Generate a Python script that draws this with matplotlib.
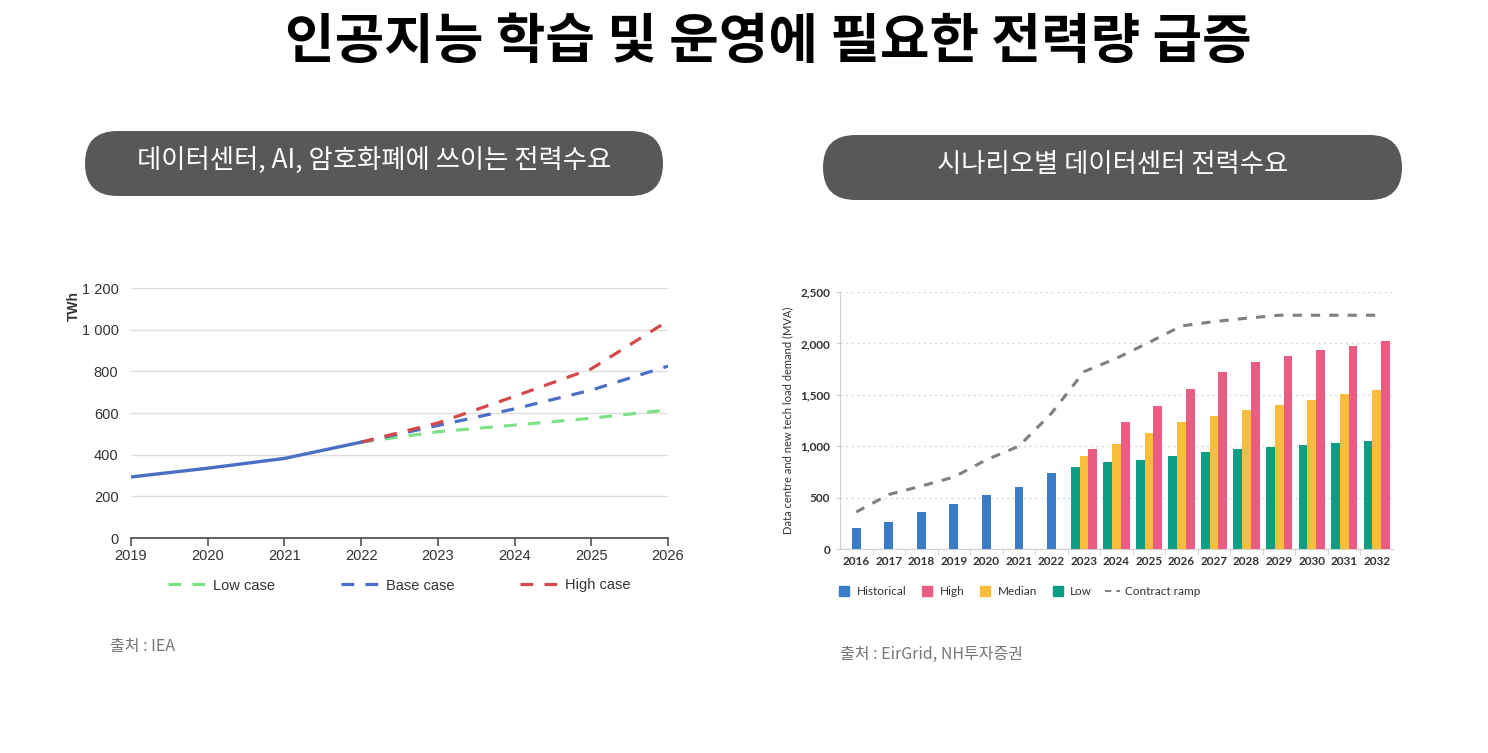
import matplotlib
matplotlib.use("Agg")
import matplotlib.pyplot as plt
from matplotlib.patches import FancyBboxPatch
from matplotlib.lines import Line2D

plt.rcParams['font.family'] = ['Noto Sans CJK KR', 'DejaVu Sans']

# ---------------- data ----------------
title = "인공지능 학습 및 운영에 필요한 전력량 급증"
left_header = "데이터센터, AI, 암호화폐에 쓰이는 전력수요"
right_header = "시나리오별 데이터센터 전력수요"
left_source = "출처 : IEA"
right_source = "출처 : EirGrid, NH투자증권"

# Left chart (IEA, TWh)
hist_years = [2019, 2020, 2021, 2022]
hist_twh = [293, 335, 382, 460]
proj_years = [2022, 2023, 2024, 2025, 2026]
low_case = [460, 510, 542, 575, 615]
base_case = [460, 540, 620, 710, 825]
high_case = [460, 552, 680, 812, 1042]
left_yticks = [0, 200, 400, 600, 800, 1000, 1200]
left_yticklabels = ["0", "200", "400", "600", "800", "1 000", "1 200"]

# Right chart (EirGrid, MVA)
years_r = [str(y) for y in range(2016, 2033)]
historical = [200, 263, 360, 438, 525, 603, 742]          # 2016-2022
scen_years = [str(y) for y in range(2023, 2033)]
low_s = [801, 846, 869, 908, 947, 973, 989, 1012, 1028, 1047]
median_s = [901, 1025, 1125, 1232, 1291, 1349, 1398, 1453, 1505, 1550]
high_s = [976, 1232, 1394, 1560, 1719, 1816, 1877, 1933, 1975, 2020]
contract_ramp = [360, 530, 612, 700, 868, 1000, 1320, 1725, 1855, 2010,
                 2170, 2212, 2245, 2274, 2274, 2274, 2274]
right_yticks = [0, 500, 1000, 1500, 2000, 2500]
right_yticklabels = ["0", "500", "1,000", "1,500", "2,000", "2,500"]

# ---------------- figure ----------------
W, H = 1488, 753
fig = plt.figure(figsize=(W / 100, H / 100), dpi=100)
fig.patch.set_facecolor("white")

bg = fig.add_axes([0, 0, 1, 1], zorder=0)
bg.set_xlim(0, W)
bg.set_ylim(H, 0)
bg.axis("off")

bg.text(768, 42, title, ha="center", va="center", fontsize=38.8,
        fontweight="heavy", color="#000000")

pill_color = "#595757"
for (x0, x1, y0, y1, txt) in [(85, 663, 131, 196, left_header),
                              (823, 1402, 135, 200, right_header)]:
    h = y1 - y0
    bg.add_patch(FancyBboxPatch((x0, y0), x1 - x0, h,
                                boxstyle=f"round,pad=0,rounding_size={h/2}",
                                fc=pill_color, ec="none"))
    bg.text((x0 + x1) / 2, (y0 + y1) / 2 - 3, txt, ha="center", va="center",
            fontsize=19, color="white", fontweight="regular")

bg.text(110, 647, left_source, ha="left", va="center", fontsize=11.5,
        color="#777777", fontweight="light")
bg.text(840, 654, right_source, ha="left", va="center", fontsize=11.5,
        color="#777777", fontweight="light")

# ---------------- left chart ----------------
narrow = ['Liberation Sans Narrow', 'Liberation Sans', 'DejaVu Sans']
axL = fig.add_axes([131 / W, 1 - 538 / H, (668 - 131) / W, (538 - 288) / H], zorder=2)
axL.set_xlim(2019, 2026)
axL.set_ylim(0, 1200)
axL.set_yticks(left_yticks)
axL.set_yticklabels(left_yticklabels)
axL.set_xticks(list(range(2019, 2027)))
for s in ["top", "right", "left"]:
    axL.spines[s].set_visible(False)
axL.spines["bottom"].set_color("#555555")
axL.spines["bottom"].set_linewidth(1.3)
axL.grid(axis="y", color="#dedede", linewidth=1)
axL.set_axisbelow(True)
axL.tick_params(axis="y", length=0, pad=9, labelsize=10.5, labelcolor="#333333")
axL.tick_params(axis="x", length=6, width=1.2, color="#555555", pad=2,
                labelsize=10.5, labelcolor="#333333")
for lab in axL.get_xticklabels() + axL.get_yticklabels():
    lab.set_family(narrow)
axL.set_ylabel("TWh", fontsize=10, family=narrow, color="#333333",
               fontweight="bold")
axL.yaxis.set_label_coords(-0.093, 0.93)

c_low, c_base, c_high = "#7ee187", "#4a6fc4", "#d6494a"
axL.plot(proj_years, low_case, color=c_low, lw=2.3, dashes=(4, 3.5), zorder=3)
axL.plot(proj_years, base_case, color=c_base, lw=2.3, dashes=(4, 3.5), zorder=3)
axL.plot(proj_years, high_case, color=c_high, lw=2.3, dashes=(4, 3.5), zorder=3)
axL.plot(hist_years, hist_twh, color=c_base, lw=2.4, zorder=4, solid_capstyle="round")

handlesL = [Line2D([], [], color=c, lw=2.3, dashes=(4, 3.5)) for c in (c_low, c_base, c_high)]
legL = axL.legend(handlesL, ["Low case", "Base case", "High case"], ncol=3,
                  loc="center", bbox_to_anchor=(0.5, -0.19), frameon=False,
                  columnspacing=4.5, handlelength=2.6, handletextpad=0.5,
                  prop={"family": narrow, "size": 10.5})
for t in legL.get_texts():
    t.set_color("#333333")

# ---------------- right chart ----------------
rf = ['Lato', 'DejaVu Sans']
axR = fig.add_axes([840 / W, 1 - 549 / H, (1393 - 840) / W, (549 - 292) / H], zorder=2)
xr = list(range(len(years_r)))
n_hist = len(historical)
c_hist, c_hi, c_med, c_lo, c_ramp = "#3a7bc8", "#eb5c82", "#f9bd3c", "#0c9e84", "#7f7f7f"
bw = 0.27
axR.bar(xr[:n_hist], historical, width=bw, color=c_hist, zorder=3)
xs = [years_r.index(y) for y in scen_years]
axR.bar([x - bw for x in xs], low_s, width=bw, color=c_lo, zorder=3)
axR.bar(xs, median_s, width=bw, color=c_med, zorder=3)
axR.bar([x + bw for x in xs], high_s, width=bw, color=c_hi, zorder=3)
axR.plot(xr, contract_ramp, color=c_ramp, lw=2.2, dashes=(3, 3), zorder=4)

axR.set_xlim(-0.5, len(years_r) - 0.5)
axR.set_ylim(0, 2500)
axR.set_xticks(xr)
axR.set_xticklabels(years_r)
axR.set_xticks([x + 0.5 for x in xr[:-1]], minor=True)
axR.set_yticks(right_yticks)
axR.set_yticklabels(right_yticklabels)
for s in ["top", "right"]:
    axR.spines[s].set_visible(False)
axR.spines["left"].set_color("#d0d0d0")
axR.spines["bottom"].set_color("#d0d0d0")
axR.grid(axis="y", color="#d8d8d8", linestyle=(0, (1.5, 2.5)), linewidth=1)
axR.set_axisbelow(True)
axR.tick_params(axis="x", which="major", length=0, pad=5, labelsize=8.5,
                labelcolor="#333333")
axR.tick_params(axis="x", which="minor", length=4, color="#d0d0d0")
axR.tick_params(axis="y", length=3, color="#d0d0d0", pad=4, labelsize=8.5,
                labelcolor="#333333")
for lab in axR.get_xticklabels() + axR.get_yticklabels():
    lab.set_family(rf)
    lab.set_fontweight("bold")
axR.set_ylabel("Data centre and new tech load demand (MVA)", fontsize=8,
               family=rf, color="#333333", labelpad=5)

handlesR = [Line2D([], [], marker="s", ls="none", color=c, markersize=7.5)
            for c in (c_hist, c_hi, c_med, c_lo)]
handlesR.append(Line2D([], [], color=c_ramp, lw=1.5, dashes=(3, 2.5)))
legR = axR.legend(handlesR, ["Historical", "High", "Median", "Low", "Contract ramp"],
                  ncol=5, loc="center left", bbox_to_anchor=(-0.025, -0.165),
                  frameon=False, columnspacing=1.1, handlelength=1.3,
                  handletextpad=0.4, prop={"family": rf, "size": 8.5})
for t in legR.get_texts():
    t.set_color("#333333")

fig.savefig("out.png", dpi=100, facecolor="white")
